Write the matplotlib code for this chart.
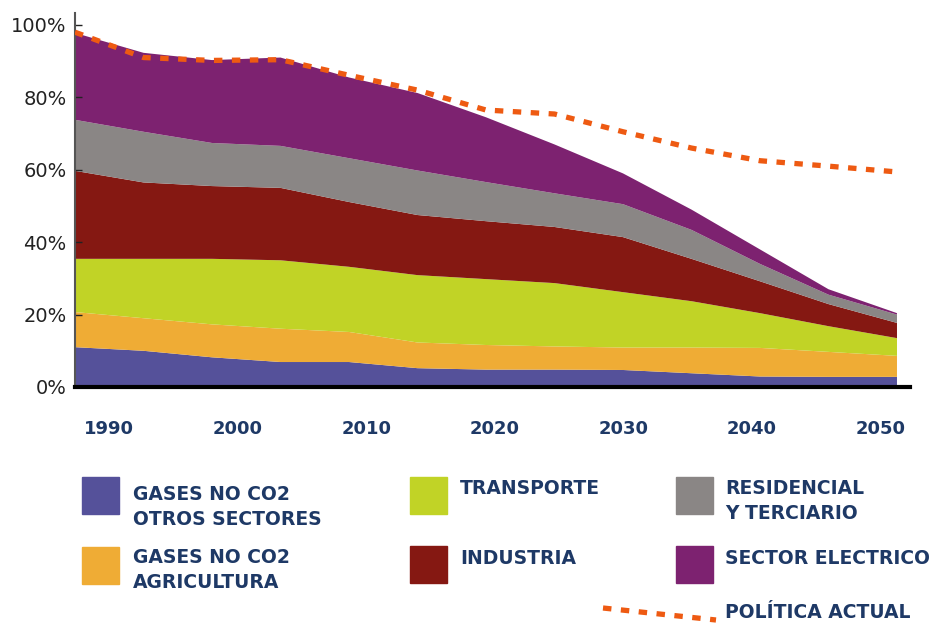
import matplotlib
matplotlib.use("Agg")
import matplotlib.pyplot as plt
from matplotlib.patches import Rectangle
from matplotlib.lines import Line2D

years = [1990, 1995, 2000, 2005, 2010, 2015, 2020, 2025, 2030, 2035, 2040, 2045, 2050]
otros = [11.0, 10.0, 8.2, 6.9, 6.9, 5.2, 4.8, 4.8, 4.7, 3.8, 2.9, 2.8, 2.8]
agricultura = [9.7, 9.0, 9.1, 9.2, 8.3, 7.1, 6.8, 6.4, 6.2, 7.1, 7.9, 6.9, 5.8]
transporte = [14.7, 16.4, 18.1, 18.9, 18.0, 18.6, 18.2, 17.5, 15.3, 12.8, 9.6, 7.1, 4.9]
industria = [24.3, 21.1, 20.1, 20.0, 17.9, 16.6, 16.0, 15.5, 15.2, 11.7, 8.8, 6.1, 4.2]
residencial = [14.1, 14.0, 11.9, 11.6, 12.1, 12.3, 10.8, 9.3, 9.1, 8.0, 4.8, 2.6, 2.3]
electrico = [24.0, 21.8, 22.9, 24.4, 22.3, 21.4, 17.9, 13.5, 8.5, 5.6, 4.0, 1.5, 0.4]
politica = [98.0, 91.0, 90.2, 90.4, 86.1, 82.0, 76.5, 75.4, 70.5, 66.0, 62.5, 61.0, 59.4]

tick_years = ["1990", "2000", "2010", "2020", "2030", "2040", "2050"]
ytick_vals = [0, 20, 40, 60, 80, 100]
ytick_labels = ["0%", "20%", "40%", "60%", "80%", "100%"]

legend_labels = ["GASES NO CO2\nOTROS SECTORES", "GASES NO CO2\nAGRICULTURA", "TRANSPORTE",
                 "INDUSTRIA", "RESIDENCIAL\nY TERCIARIO", "SECTOR ELECTRICO"]
policy_label = "POLÍTICA ACTUAL"

colors = ["#55519A", "#EFAC35", "#C1D326", "#851812", "#8A8685", "#7D2270"]
orange = "#EE5A12"
navy = "#1E3966"

W, H = 943, 624
fig = plt.figure(figsize=(W / 100, H / 100), dpi=100)
ax = fig.add_axes([75 / W, 1 - 387 / H, (910 - 75) / W, (387 - 13) / H])

series = [otros, agricultura, transporte, industria, residencial, electrico]
ax.stackplot(years, *series, colors=colors, linewidth=0)
ax.plot(years, politica, color=orange, lw=3.8, linestyle=(0, (1.6, 1.8)),
        dash_capstyle="butt", zorder=5)

ax.set_xlim(1990, 2050.95)
ax.set_ylim(0, 103.3)

for s in ["top", "right"]:
    ax.spines[s].set_visible(False)
ax.spines["left"].set_color("#555555")
ax.spines["left"].set_linewidth(1.5)
ax.spines["bottom"].set_color("black")
ax.spines["bottom"].set_linewidth(3)

ax.set_yticks(ytick_vals)
ax.set_yticklabels(ytick_labels, fontsize=14, color="#222222")
ax.tick_params(axis="y", direction="in", length=5, width=1, pad=6, color="#222222")

tick_pos = [1992.5 + (int(t) - 1990) * 0.938 for t in tick_years]
ax.set_xticks(tick_pos)
ax.set_xticklabels(tick_years, fontsize=13, fontweight="bold", color=navy)
ax.tick_params(axis="x", length=0, pad=24)

# Legend (custom, figure pixel coords)
def fx(px):
    return px / W

def fy(py):
    return 1 - py / H

patch_pos = [(82, 477), (82, 547), (410, 477), (410, 546), (676, 477), (676, 546)]
text_pos = [(133, 507), (133, 570), (460, 489), (460, 558), (725, 501), (725, 558)]
for (px, py), (tx, ty), c, lab in zip(patch_pos, text_pos, colors, legend_labels):
    fig.patches.append(Rectangle((fx(px), fy(py + 37)), 37 / W, 37 / H,
                                 transform=fig.transFigure, color=c))
    fig.text(fx(tx), fy(ty), lab, fontsize=13.5, fontweight="bold", color=navy,
             va="center", ha="left", linespacing=1.35)

fig.lines.append(Line2D([fx(603), fx(716)], [fy(608), fy(620)], transform=fig.transFigure,
                        color=orange, lw=3.8, linestyle=(0, (1.6, 1.8)), dash_capstyle="butt"))
fig.text(fx(725), fy(613), policy_label, fontsize=13.5, fontweight="bold", color=navy,
         va="center", ha="left")

fig.savefig("out.png", dpi=100)
